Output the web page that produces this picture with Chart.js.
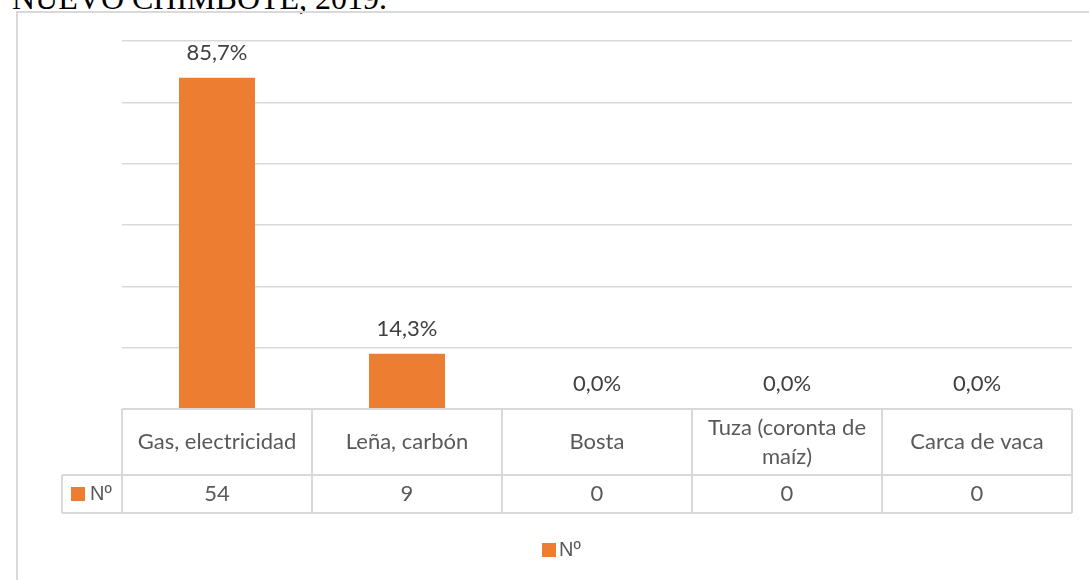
<!DOCTYPE html>
<html>
<head>
<meta charset="utf-8">
<script src="https://cdn.jsdelivr.net/npm/chart.js@4/dist/chart.umd.min.js"></script>
<style>
  html, body { margin: 0; padding: 0; background: #fff; overflow: hidden; width: 1089px; height: 580px; }
  #title { position: absolute; left: 12px; top: -20px; font-family: "Liberation Serif", "Times New Roman", serif; font-size: 32px; color: #000; white-space: nowrap; line-height: 36px; }
  #box { position: absolute; left: 16px; top: 11px; width: 1100px; height: 600px; border: 2px solid #d9d9d9; }
  canvas { display: block; }
</style>
</head>
<body>
<div id="title">NUEVO CHIMBOTE, 2019.</div>
<div id="box"><canvas id="c"></canvas></div>
<script>
const categories = ["Gas, electricidad", "Leña, carbón", "Bosta", ["Tuza (coronta de", "maíz)"], "Carca de vaca"];
const seriesName = "Nº";
const counts = [54, 9, 0, 0, 0];
const percentages = [85.7, 14.3, 0.0, 0.0, 0.0];
const yTicks = [0, 10, 20, 30, 40, 50, 60];

const ORANGE = "#ED7D31";
const GRID = "#d9d9d9";
const FONT = "Lato, 'Open Sans', sans-serif";
const LEGFONT = "20px 'Liberation Sans', 'DejaVu Sans', sans-serif";

const tablePlugin = {
  id: "tablePlugin",
  afterDatasetsDraw(chart) {
    const ctx = chart.ctx;
    const meta = chart.getDatasetMeta(0);
    ctx.save();
    ctx.font = "22px " + FONT;
    ctx.fillStyle = "#404040";
    ctx.textAlign = "center";
    ctx.textBaseline = "middle";
    meta.data.forEach((bar, i) => {
      const label = percentages[i].toFixed(1).replace(".", ",") + "%";
      ctx.fillText(label, bar.x, bar.y - 25);
    });
    ctx.restore();
  },
  afterDraw(chart) {
    const ctx = chart.ctx;
    const xs = chart.scales.x;
    const area = chart.chartArea;
    const n = categories.length;
    const step = (area.right - area.left) / n;
    const top = area.bottom;
    const headH = 66, rowH = 38;
    const legLeft = area.left - 60;
    ctx.save();
    ctx.strokeStyle = GRID;
    ctx.lineWidth = 2;
    ctx.beginPath();
    ctx.moveTo(area.left, top); ctx.lineTo(area.right, top);
    ctx.moveTo(legLeft, top + headH); ctx.lineTo(area.right, top + headH);
    ctx.moveTo(legLeft, top + headH + rowH); ctx.lineTo(area.right, top + headH + rowH);
    ctx.moveTo(legLeft, top + headH); ctx.lineTo(legLeft, top + headH + rowH);
    for (let i = 0; i <= n; i++) {
      const xx = i < n ? xs.getPixelForValue(i) - step / 2 : xs.getPixelForValue(n - 1) + step / 2;
      ctx.moveTo(xx, top); ctx.lineTo(xx, top + headH + rowH);
    }
    ctx.stroke();

    ctx.font = "22px " + FONT;
    ctx.fillStyle = "#595959";
    ctx.textAlign = "center";
    ctx.textBaseline = "middle";
    categories.forEach((c, i) => {
      const cx = xs.getPixelForValue(i);
      const lines = Array.isArray(c) ? c : [c];
      const lh = 29;
      const cy = top + headH / 2 - (lines.length - 1) * lh / 2;
      lines.forEach((l, k) => ctx.fillText(l, cx, cy + k * lh));
      ctx.fillText(String(counts[i]), cx, top + headH + rowH / 2);
    });
    // legend key in table
    ctx.fillStyle = ORANGE;
    ctx.fillRect(legLeft + 9, top + headH + 12, 14, 14);
    ctx.fillStyle = "#595959";
    ctx.textAlign = "left";
    ctx.font = LEGFONT;
    ctx.fillText(seriesName, legLeft + 28, top + headH + rowH / 2);

    // bottom legend
    const lgY = top + headH + rowH + 36;
    const cxAll = (area.left + area.right) / 2;
    ctx.fillStyle = ORANGE;
    ctx.fillRect(cxAll - 55, lgY - 6, 14, 14);
    ctx.fillStyle = "#595959";
    ctx.fillText(seriesName, cxAll - 38, lgY + 1);
    ctx.restore();
  }
};

new Chart(document.getElementById("c"), {
  type: "bar",
  data: {
    labels: categories,
    datasets: [{
      label: seriesName,
      data: counts,
      backgroundColor: ORANGE,
      borderWidth: 0,
      categoryPercentage: 1.0,
      barPercentage: 0.4
    }]
  },
  options: {
    responsive: true,
    maintainAspectRatio: false,
    animation: false,
    events: [],
    layout: { padding: { left: 104, right: 46, top: 28, bottom: 204 } },
    plugins: { legend: { display: false }, tooltip: { enabled: false } },
    scales: {
      x: { display: false },
      y: {
        display: true,
        min: 0, max: 60,
        afterBuildTicks(s) { s.ticks = yTicks.map(v => ({ value: v })); },
        afterFit(s) { s.width = 0; },
        ticks: { display: false },
        border: { display: false },
        grid: { color: GRID, lineWidth: 1.5, drawTicks: false }
      }
    }
  },
  plugins: [tablePlugin]
});
</script>
</body>
</html>
